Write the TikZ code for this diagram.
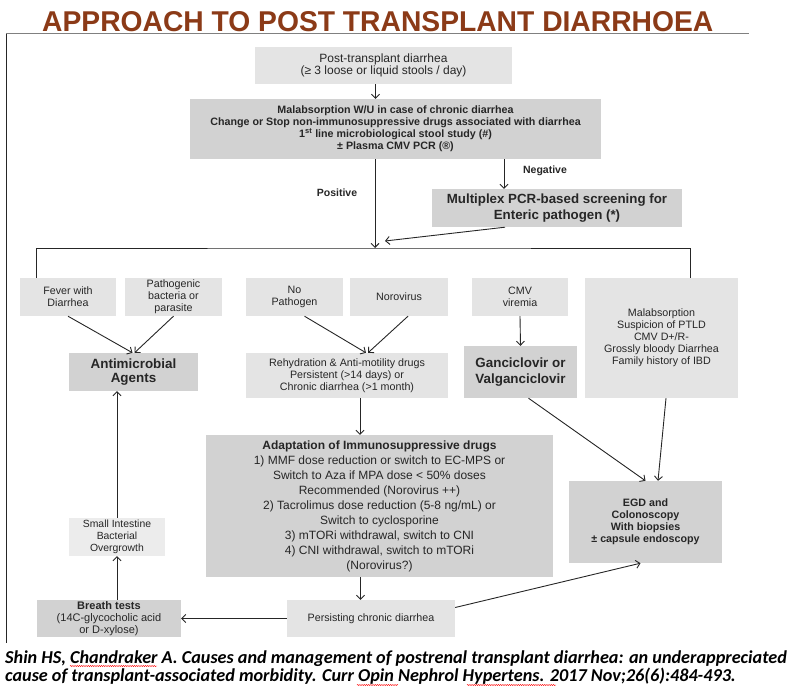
\documentclass[tikz,border=0pt]{standalone}
\usepackage{graphicx}
\usepackage{fontspec}
\setmainfont{Liberation Sans}
\newfontfamily\citefont{Carlito}
\usetikzlibrary{arrows.meta,positioning,decorations.pathmorphing}
\definecolor{titlered}{HTML}{8B3A17}
\definecolor{boxlight}{HTML}{E4E4E4}
\definecolor{boxdark}{HTML}{D2D2D2}
\definecolor{boxpale}{HTML}{ECECEC}
\definecolor{inkgrey}{HTML}{262626}

\begin{document}
\begin{tikzpicture}[x=1pt, y=-1pt, >={Straight Barb[length=4pt,width=8pt]},
   sz/.style 2 args={minimum width=#1pt, minimum height=#2pt},
   lbox/.style={fill=boxlight, text=inkgrey, align=center, inner sep=0pt, font=\fontsize{10.7}{12}\selectfont},
   dbox/.style={lbox, fill=boxdark, font=\bfseries\fontsize{13.4}{14.5}\selectfont},
   flow/.style={->, draw=inkgrey, line width=0.9pt},
   wire/.style={draw=inkgrey, line width=0.9pt},
   lbl/.style={text=inkgrey, font=\bfseries\fontsize{10.5}{12}\selectfont},
   cite/.style={anchor=base west, inner sep=0pt, font=\citefont\bfseries\itshape\fontsize{18.2}{18}\selectfont},
   spell/.style={red, line width=0.4pt, decorate, decoration={snake, amplitude=0.6pt, segment length=2.2pt}}]
\useasboundingbox (0,0) rectangle (795,687);

% title and frame
\node[anchor=base west, inner sep=0pt, text=titlered] (title) at (42,32)
   {\resizebox{671pt}{20pt}{\bfseries APPROACH TO POST TRANSPLANT DIARRHOEA}};
\draw[gray, line width=1pt] (6,34) -- (749,34);
\draw[inkgrey, line width=0.8pt] (6,34) -- (6,643);

% first work-up
\node[lbox, sz={257}{37}, font=\fontsize{12}{12.5}\selectfont] (top) at (383.5,65.5)
   {Post-transplant diarrhea\\(≥ 3 loose or liquid stools / day)};
\node[dbox, sz={411}{60}, font=\bfseries\fontsize{10.7}{12}\selectfont] (wu) at (395.5,129)
   {Malabsorption W/U in case of chronic diarrhea\\
    Change or Stop non-immunosuppressive drugs associated with diarrhea\\
    1\textsuperscript{st} line microbiological stool study (\#)\\
    ± Plasma CMV PCR (®)};
\node[dbox, sz={250}{38}, font=\bfseries\fontsize{13.3}{15.5}\selectfont] (multi) at (557,208)
   {Multiplex PCR-based screening for\\Enteric pathogen (*)};

% second row
\node[lbox, sz={96}{38}] (fever)  at (68,297)    {Fever with\\Diarrhea};
\node[lbox, sz={97}{38}] (patho)  at (173.5,297) {Pathogenic\\bacteria or\\parasite};
\node[lbox, sz={97}{38}] (nopath) at (294.5,297) {No\\Pathogen};
\node[lbox, sz={98}{38}] (noro)   at (399,297)   {Norovirus};
\node[lbox, sz={96}{38}] (cmv)    at (520,297)   {CMV\\viremia};
\node[lbox, sz={153}{120}] (malab) at (661.5,338)
   {Malabsorption\\Suspicion of PTLD\\CMV D+/R-\\Grossly bloody Diarrhea\\Family history of IBD};

% treatments
\node[dbox, sz={129}{38}] (anti) at (133.5,372) {Antimicrobial\\Agents};
\node[lbox, sz={202}{45}] (rehyd) at (347,375.5)
   {Rehydration \& Anti-motility drugs\\Persistent (>14 days) or\\Chronic diarrhea (>1 month)};
\node[dbox, sz={113}{52}, font=\bfseries\fontsize{13.4}{16}\selectfont] (ganc) at (520.5,372)
   {Ganciclovir or\\Valganciclovir};
\node[dbox, sz={347}{142}, font=\fontsize{12}{15}\selectfont] (adapt) at (379.5,506)
   {\textbf{Adaptation of Immunosuppressive drugs}\\
    1) MMF dose reduction or switch to EC-MPS or\\
    Switch to Aza if MPA dose < 50\% doses\\
    Recommended (Norovirus ++)\\
    2) Tacrolimus dose reduction (5-8 ng/mL) or\\
    Switch to cyclosporine\\
    3) mTORi withdrawal, switch to CNI\\
    4) CNI withdrawal, switch to mTORi\\
    (Norovirus?)};
\node[dbox, sz={153}{82}, font=\bfseries\fontsize{10.7}{12}\selectfont] (egd) at (645.5,522)
   {EGD and\\Colonoscopy\\With biopsies\\± capsule endoscopy};
\node[lbox, sz={96}{38}, fill=boxpale, font=\fontsize{10.4}{12}\selectfont] (sibo) at (117,537)
   {Small Intestine\\Bacterial\\Overgrowth};
\node[dbox, sz={144}{37}, font=\fontsize{11}{12}\selectfont] (breath) at (109,618.5)
   {\textbf{Breath tests}\\(14C-glycocholic acid\\or D-xylose)};
\node[lbox, sz={168}{37}] (persist) at (371,618.5)
   {Persisting chronic diarrhea};

% connectors
\coordinate (split) at (375,248);
\coordinate (join) at (385,241);
\draw[flow] ([xshift=-8pt]top.south) -- ([xshift=-8pt]top.south |- wu.north);
\draw[flow] (wu.south -| split) -- (split);
\node[lbl] (pos) at (337,193) {Positive};
\draw[flow] ([xshift=-53pt]multi.north |- wu.south) -- ([xshift=-53pt]multi.north);
\node[lbl] (neg) at (545,171) {Negative};
\draw[flow] ([xshift=-52pt]multi.south) -- (join);
\draw[wire] ([xshift=-32pt]fever.north) |- (split) -| ([xshift=28.5pt]malab.north);
\draw[flow] (fever.south) -- ([xshift=-1pt]anti.north);
\draw[flow] (patho.south) -- ([xshift=1pt]anti.north);
\draw[flow] ([xshift=10pt]nopath.south) -- ([xshift=19pt]rehyd.north);
\draw[flow] ([xshift=9pt]noro.south) -- ([xshift=21pt]rehyd.north);
\draw[flow] (cmv.south) -- (ganc.north);
\draw[flow] ([xshift=13pt]rehyd.south) -- ([xshift=13pt]rehyd.south |- adapt.north);
\draw[flow] ([xshift=8pt]ganc.south) -- (egd.north);
\draw[flow] ([xshift=4.5pt]malab.south) -- ([xshift=12.5pt]egd.north);
\draw[flow] ([xshift=-19pt]adapt.south) -- ([xshift=-19pt]adapt.south |- persist.north);
\draw[flow] (persist.west) -- (breath.east);
\draw[flow] (sibo.south |- breath.north) -- (sibo.south);
\draw[flow] (sibo.north) -- (sibo.north |- anti.south);
\draw[flow] ([yshift=11pt]persist.east) -- ([xshift=-5pt]egd.south);

% reference
\node[cite] (cite1) at (5,663) {Shin HS, Chandraker A. Causes and management of postrenal transplant diarrhea: an underappreciated};
\node[cite] (cite2) at (5,681) {cause of transplant-associated morbidity. Curr Opin Nephrol Hypertens. 2017 Nov;26(6):484-493.};
\draw[spell] (70,666) -- (157,666);
\draw[spell] (357,685) -- (398,685);
\draw[spell] (467,685) -- (556,685);
\end{tikzpicture}
\end{document}
